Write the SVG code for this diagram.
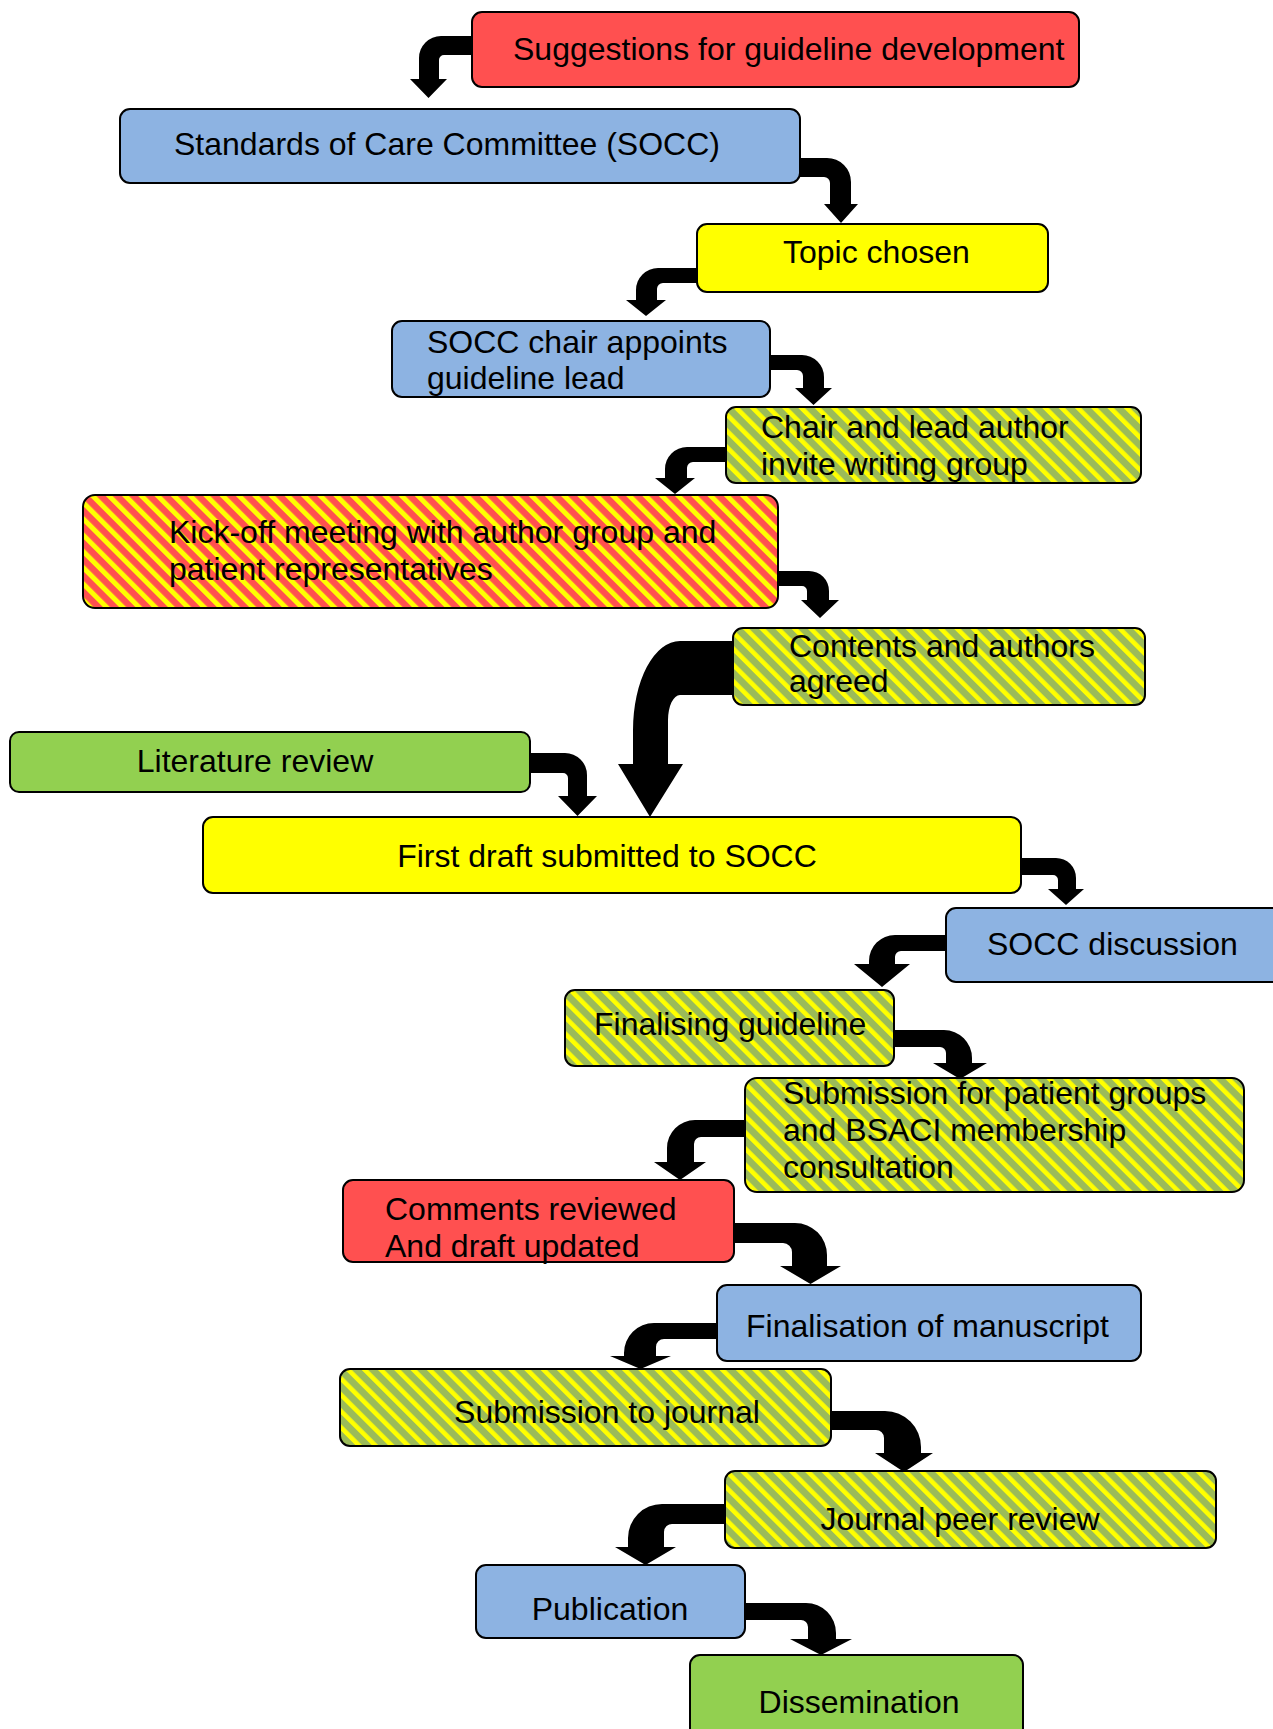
<svg xmlns="http://www.w3.org/2000/svg" width="1273" height="1729" viewBox="0 0 1273 1729">
<defs>
<pattern id="hatchG" patternUnits="userSpaceOnUse" width="11.5" height="11.5" patternTransform="rotate(-45)">
<rect width="11.5" height="11.5" fill="#9BBB59"/>
<rect width="4.6" height="11.5" fill="#FFFF00"/>
</pattern>
<pattern id="hatchR" patternUnits="userSpaceOnUse" width="11.5" height="11.5" patternTransform="rotate(-45)">
<rect width="11.5" height="11.5" fill="#FF5050"/>
<rect width="5" height="11.5" fill="#FFFF00"/>
</pattern>
<style>
.box{stroke:#000;stroke-width:2}
.red{fill:#FF5050}.blue{fill:#8DB3E2}.yel{fill:#FFFF00}.grn{fill:#92D050}
.hg{fill:url(#hatchG)}.hr{fill:url(#hatchR)}
.arr{fill:#000;stroke:none}
text{font-family:"Liberation Sans",Arial,sans-serif;font-size:32px;fill:#000}
.m{text-anchor:middle}
</style>
</defs>
<rect width="1273" height="1729" fill="#fff"/>
<g id="connectors">
<path class="arr" d="M473,36 H441 A22 22 0 0 0 419,58 V79 H410 L428.5,98 L447,79 H439 V60 A5 5 0 0 1 444,55 H473 Z"/>
<path class="arr" d="M799,158 H827 A24 24 0 0 1 851,182 V204 H858 L841,223 L824,204 H830 V183 A6 6 0 0 0 824,177 H799 Z"/>
<path class="arr" d="M698,268 H658 A22 22 0 0 0 636,290 V300 H626 L646,316 L666,300 H657 V289 A6 6 0 0 1 663,283 H698 Z"/>
<path class="arr" d="M769,355 H802 A22 22 0 0 1 824,377 V388 H832 L813.5,405 L795,388 H803 V376 A6 6 0 0 0 797,370 H769 Z"/>
<path class="arr" d="M727,447 H687 A22 22 0 0 0 665,469 V478 H655 L675,494 L695,478 H687 V468 A6 6 0 0 1 693,462 H727 Z"/>
<path class="arr" d="M777,571 H809 A20 20 0 0 1 829,591 V600 H839 L820,618 L801,600 H807 V591 A5 5 0 0 0 802,586 H777 Z"/>
<path class="arr" d="M734,641 H680 A47 89 0 0 0 633,730 V764 H618 L650,817 L683,764 H668 V720 A12 25 0 0 1 680,695 H734 Z"/>
<path class="arr" d="M529,753 H565 A22 22 0 0 1 587,775 V796 H597 L577.5,816 L558,796 H568 V778 A5 5 0 0 0 563,773 H529 Z"/>
<path class="arr" d="M1020,858 H1056 A20 20 0 0 1 1076,878 V889 H1084 L1066,905 L1048,889 H1058 V880 A5 5 0 0 0 1053,875 H1020 Z"/>
<path class="arr" d="M947,935 H895 A26 26 0 0 0 869,961 V964 H854 L882,987 L910,964 H895 V957 A6 6 0 0 1 901,951 H947 Z"/>
<path class="arr" d="M893,1030 H944 A28 28 0 0 1 972,1058 V1063 H987 L960,1079 L933,1063 H946 V1053 A6 6 0 0 0 940,1047 H893 Z"/>
<path class="arr" d="M746,1120 H695 A28 28 0 0 0 667,1148 V1162 H654 L680,1180 L706,1162 H694 V1144 A7 7 0 0 1 701,1137 H746 Z"/>
<path class="arr" d="M733,1223 H795 A32 32 0 0 1 827,1255 V1266 H841 L810.5,1284 L780,1266 H792 V1252 A9 9 0 0 0 783,1243 H733 Z"/>
<path class="arr" d="M718,1323 H654 A30 30 0 0 0 624,1353 V1356 H610 L640.5,1369 L671,1356 H656 V1347 A8 8 0 0 1 664,1339 H718 Z"/>
<path class="arr" d="M830,1411 H885 A36 36 0 0 1 921,1447 V1453 H933 L904,1472 L875,1453 H884 V1438 A8 8 0 0 0 876,1430 H830 Z"/>
<path class="arr" d="M726,1504 H662 A34 34 0 0 0 628,1538 V1547 H615 L645.5,1565 L676,1547 H664 V1532 A8 8 0 0 1 672,1524 H726 Z"/>
<path class="arr" d="M744,1603 H806 A30 30 0 0 1 836,1633 V1639 H852 L821,1655 L790,1639 H808 V1627 A7 7 0 0 0 801,1620 H744 Z"/>
</g>
<g id="n1"><rect class="box red" x="472" y="12" width="607" height="75" rx="10"/><text x="513" y="60">Suggestions for guideline development</text></g>
<g id="n2"><rect class="box blue" x="120" y="109" width="680" height="74" rx="10"/><text x="174" y="155">Standards of Care Committee (SOCC)</text></g>
<g id="n3"><rect class="box yel" x="697" y="224" width="351" height="68" rx="10"/><text x="783" y="263">Topic chosen</text></g>
<g id="n4"><rect class="box blue" x="392" y="321" width="378" height="76" rx="10"/><text x="427" y="353">SOCC chair appoints</text><text x="427" y="389">guideline lead</text></g>
<g id="n5"><rect class="box hg" x="726" y="407" width="415" height="76" rx="10"/><text x="761" y="438">Chair and lead author</text><text x="761" y="475">invite writing group</text></g>
<g id="n6"><rect class="box hr" x="83" y="495" width="695" height="113" rx="12"/><text x="169" y="543">Kick-off meeting with author group and</text><text x="169" y="580">patient representatives</text></g>
<g id="n7"><rect class="box hg" x="733" y="628" width="412" height="77" rx="10"/><text x="789" y="657">Contents and authors</text><text x="789" y="692">agreed</text></g>
<g id="n8"><rect class="box grn" x="10" y="732" width="520" height="60" rx="9"/><text class="m" x="255" y="772">Literature review</text></g>
<g id="n9"><rect class="box yel" x="203" y="817" width="818" height="76" rx="10"/><text class="m" x="607" y="867">First draft submitted to SOCC</text></g>
<g id="n10"><rect class="box blue" x="946" y="908" width="340" height="74" rx="10"/><text x="987" y="955">SOCC discussion</text></g>
<g id="n11"><rect class="box hg" x="565" y="990" width="329" height="76" rx="10"/><text x="594" y="1035">Finalising guideline</text></g>
<g id="n12"><rect class="box hg" x="745" y="1078" width="499" height="114" rx="12"/><text x="783" y="1104">Submission for patient groups</text><text x="783" y="1141">and BSACI membership</text><text x="783" y="1178">consultation</text></g>
<g id="n13"><rect class="box red" x="343" y="1180" width="391" height="82" rx="10"/><text x="385" y="1220">Comments reviewed</text><text x="385" y="1257">And draft updated</text></g>
<g id="n14"><rect class="box blue" x="717" y="1285" width="424" height="76" rx="10"/><text x="746" y="1337">Finalisation of manuscript</text></g>
<g id="n15"><rect class="box hg" x="340" y="1369" width="491" height="77" rx="10"/><text class="m" x="607" y="1423">Submission to journal</text></g>
<g id="n16"><rect class="box hg" x="725" y="1471" width="491" height="77" rx="10"/><text class="m" x="960" y="1530">Journal peer review</text></g>
<g id="n17"><rect class="box blue" x="476" y="1565" width="269" height="73" rx="10"/><text class="m" x="610" y="1620">Publication</text></g>
<g id="n18"><rect class="box grn" x="690" y="1655" width="333" height="90" rx="10"/><text class="m" x="859" y="1713">Dissemination</text></g>
</svg>
